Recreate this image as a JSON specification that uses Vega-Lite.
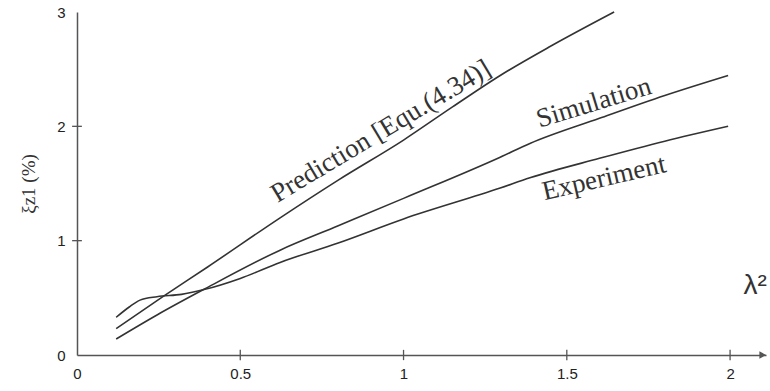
{
  "$schema": "https://vega.github.io/schema/vega-lite/v6.json",
  "width": 689,
  "height": 343,
  "autosize": {"type": "none"},
  "padding": {"left": 77, "top": 12, "right": 4, "bottom": 36},
  "background": "white",
  "config": {"view": {"stroke": null}, "font": "Liberation Sans"},
  "datasets": {
    "curves": [
      {"series": "Prediction", "x": 0.12, "y": 0.23},
      {"series": "Prediction", "x": 0.263, "y": 0.51},
      {"series": "Prediction", "x": 0.4, "y": 0.77},
      {"series": "Prediction", "x": 0.622, "y": 1.2},
      {"series": "Prediction", "x": 0.8, "y": 1.53},
      {"series": "Prediction", "x": 1.0, "y": 1.88},
      {"series": "Prediction", "x": 1.15, "y": 2.17},
      {"series": "Prediction", "x": 1.296, "y": 2.445},
      {"series": "Prediction", "x": 1.45, "y": 2.7},
      {"series": "Prediction", "x": 1.645, "y": 3.0},
      {"series": "Simulation", "x": 0.12, "y": 0.14},
      {"series": "Simulation", "x": 0.245, "y": 0.35},
      {"series": "Simulation", "x": 0.386, "y": 0.57},
      {"series": "Simulation", "x": 0.622, "y": 0.917},
      {"series": "Simulation", "x": 0.8, "y": 1.13},
      {"series": "Simulation", "x": 1.0, "y": 1.37},
      {"series": "Simulation", "x": 1.296, "y": 1.73},
      {"series": "Simulation", "x": 1.387, "y": 1.85},
      {"series": "Simulation", "x": 1.6, "y": 2.07},
      {"series": "Simulation", "x": 1.8, "y": 2.27},
      {"series": "Simulation", "x": 1.994, "y": 2.445},
      {"series": "Experiment", "x": 0.12, "y": 0.33},
      {"series": "Experiment", "x": 0.16, "y": 0.42},
      {"series": "Experiment", "x": 0.193, "y": 0.48},
      {"series": "Experiment", "x": 0.245, "y": 0.51},
      {"series": "Experiment", "x": 0.32, "y": 0.53},
      {"series": "Experiment", "x": 0.386, "y": 0.57},
      {"series": "Experiment", "x": 0.5, "y": 0.67},
      {"series": "Experiment", "x": 0.622, "y": 0.81},
      {"series": "Experiment", "x": 0.8, "y": 0.98},
      {"series": "Experiment", "x": 1.0, "y": 1.19},
      {"series": "Experiment", "x": 1.296, "y": 1.46},
      {"series": "Experiment", "x": 1.387, "y": 1.55},
      {"series": "Experiment", "x": 1.6, "y": 1.72},
      {"series": "Experiment", "x": 1.8, "y": 1.87},
      {"series": "Experiment", "x": 1.994, "y": 2.0}
    ],
    "labels": [
      {"name": "Prediction", "text": "Prediction [Equ.(4.34)]", "x": 0.931, "y": 1.956},
      {"name": "Simulation", "text": "Simulation", "x": 1.583, "y": 2.205},
      {"name": "Experiment", "text": "Experiment", "x": 1.614, "y": 1.546},
      {"name": "Axis", "text": "λ²", "x": 2.077, "y": 0.6}
    ],
    "xticks": [{"v": 0.5}, {"v": 1}, {"v": 1.5}, {"v": 2}],
    "yticks": [{"v": 1}, {"v": 2}],
    "arrow": [{"x": 2.1, "y": 0}]
  },
  "layer": [
    {
      "data": {"name": "curves"},
      "mark": {"type": "line", "color": "#333", "strokeWidth": 1.6, "interpolate": "monotone"},
      "encoding": {
        "x": {
          "field": "x", "type": "quantitative",
          "scale": {"domain": [0, 2.11], "nice": false, "zero": false},
          "axis": {
            "values": [0, 0.5, 1, 1.5, 2], "title": null, "grid": false, "ticks": false,
            "format": "~g",
            "labelFontSize": 15, "labelColor": "#222", "labelPadding": 11,
            "domainColor": "#555", "domainWidth": 1.5, "labelFlush": false
          }
        },
        "y": {
          "field": "y", "type": "quantitative",
          "scale": {"domain": [0, 3], "nice": false},
          "axis": {
            "values": [0, 1, 2, 3], "title": "ξz1 (%)", "grid": false, "ticks": false,
            "format": "~g",
            "labelFontSize": 15, "labelColor": "#222", "labelPadding": 12,
            "domainColor": "#555", "domainWidth": 1.5,
            "titleFont": "Liberation Serif", "titleFontSize": 19, "titleFontWeight": "normal",
            "titleColor": "#333", "titlePadding": 18
          }
        },
        "detail": {"field": "series"}
      }
    },
    {
      "mark": {"type": "rule", "color": "#555", "strokeWidth": 1.5},
      "encoding": {
        "x": {"datum": 0, "type": "quantitative"},
        "x2": {"datum": 2},
        "y": {"datum": 3, "type": "quantitative"}
      }
    },
    {
      "mark": {"type": "rule", "color": "#555", "strokeWidth": 1.5},
      "encoding": {
        "x": {"datum": 2, "type": "quantitative"},
        "y": {"datum": 0, "type": "quantitative"},
        "y2": {"datum": 3}
      }
    },
    {
      "data": {"name": "xticks"},
      "mark": {"type": "rule", "color": "#555", "strokeWidth": 1.3},
      "encoding": {
        "x": {"field": "v", "type": "quantitative"},
        "y": {"datum": -0.045, "type": "quantitative"},
        "y2": {"datum": 0.045}
      }
    },
    {
      "data": {"name": "yticks"},
      "mark": {"type": "rule", "color": "#555", "strokeWidth": 1.3},
      "encoding": {
        "y": {"field": "v", "type": "quantitative"},
        "x": {"datum": -0.015, "type": "quantitative"},
        "x2": {"datum": 0.015}
      }
    },
    {
      "data": {"name": "arrow"},
      "mark": {"type": "point", "shape": "triangle-right", "filled": true, "color": "#555", "size": 60, "opacity": 1},
      "encoding": {
        "x": {"field": "x", "type": "quantitative"},
        "y": {"field": "y", "type": "quantitative"}
      }
    },
    {
      "data": {"name": "labels"},
      "transform": [{"filter": "datum.name == 'Prediction'"}],
      "mark": {"type": "text", "font": "Liberation Serif", "fontSize": 27, "angle": -31, "align": "center", "baseline": "middle", "color": "#333"},
      "encoding": {
        "x": {"field": "x", "type": "quantitative"},
        "y": {"field": "y", "type": "quantitative"},
        "text": {"field": "text"}
      }
    },
    {
      "data": {"name": "labels"},
      "transform": [{"filter": "datum.name == 'Simulation'"}],
      "mark": {"type": "text", "font": "Liberation Serif", "fontSize": 27, "angle": -17, "align": "center", "baseline": "middle", "color": "#333"},
      "encoding": {
        "x": {"field": "x", "type": "quantitative"},
        "y": {"field": "y", "type": "quantitative"},
        "text": {"field": "text"}
      }
    },
    {
      "data": {"name": "labels"},
      "transform": [{"filter": "datum.name == 'Experiment'"}],
      "mark": {"type": "text", "font": "Liberation Serif", "fontSize": 27, "angle": -13, "align": "center", "baseline": "middle", "color": "#333"},
      "encoding": {
        "x": {"field": "x", "type": "quantitative"},
        "y": {"field": "y", "type": "quantitative"},
        "text": {"field": "text"}
      }
    },
    {
      "data": {"name": "labels"},
      "transform": [{"filter": "datum.name == 'Axis'"}],
      "mark": {"type": "text", "font": "Liberation Sans", "fontSize": 28, "align": "center", "baseline": "middle", "color": "#333"},
      "encoding": {
        "x": {"field": "x", "type": "quantitative"},
        "y": {"field": "y", "type": "quantitative"},
        "text": {"field": "text"}
      }
    }
  ]
}
